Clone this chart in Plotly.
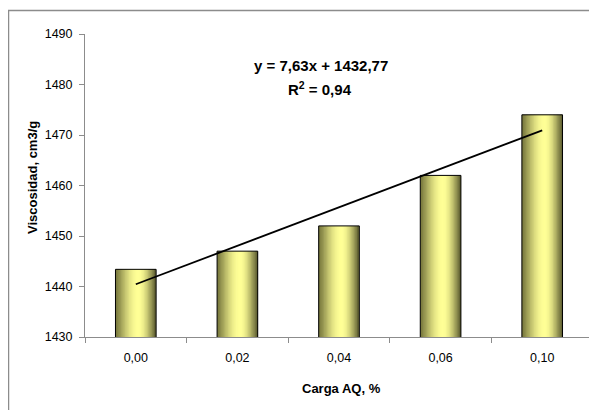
import numpy as np
import plotly.graph_objects as go

# ---- data ----
categories = ["0,00", "0,02", "0,04", "0,06", "0,10"]
viscosity = [1443.4, 1447.0, 1452.0, 1462.0, 1474.0]
y_ticks = [1430, 1440, 1450, 1460, 1470, 1480, 1490]
equation_text = "y = 7,63x + 1432,77"
r2_text = "R<sup>2</sup> = 0,94"

# ---- layout constants (reference pixel coords; page body adds an 8px offset) ----
OFF = 8
W, H = 597 - OFF, 410 - OFF
PLOT_L, PLOT_R, PLOT_T, PLOT_B = 85, 593, 34, 337
L = PLOT_L - OFF
T = PLOT_T - OFF
R = W - (PLOT_R - OFF)
B = H - (PLOT_B - OFF)
PW, PH = PLOT_R - PLOT_L, PLOT_B - PLOT_T

def px_x(x):
    return (x - PLOT_L) / PW

def px_y(y):
    return (PLOT_B - y) / PH

# linear trend over category index 1..n
idx = np.arange(1, len(viscosity) + 1)
slope, intercept = np.polyfit(idx, viscosity, 1)
trend = slope * idx + intercept

fig = go.Figure()

# gradient bars built from thin overlaid stripes
bar_w = 0.4
n_strips = 30
dark_l = np.array([118, 118, 60])
dark_r = np.array([96, 96, 50])
light = np.array([255, 255, 150])
peak = 0.56
sw = bar_w / n_strips
for i in range(n_strips):
    t = (i + 0.5) / n_strips
    if t < peak:
        s = t / peak
        dark = dark_l
    else:
        s = (1 - t) / (1 - peak)
        dark = dark_r
    b = np.sin(s * np.pi / 2) ** 1.2
    c = dark + (light - dark) * b
    color = "rgb(%d,%d,%d)" % tuple(np.round(c).astype(int))
    fig.add_trace(go.Bar(
        x=categories, y=viscosity,
        width=sw * 1.6 if i < n_strips - 1 else sw,
        offset=-bar_w / 2 + i * sw,
        marker=dict(color=color, line=dict(width=0)),
        hoverinfo="skip", showlegend=False,
    ))

# bar outlines
fig.add_trace(go.Bar(
    x=categories, y=viscosity, width=bar_w, offset=-bar_w / 2,
    marker=dict(color="rgba(0,0,0,0)", line=dict(color="black", width=1)),
    showlegend=False,
))

# trendline
fig.add_trace(go.Scatter(
    x=[categories[0], categories[-1]], y=[trend[0], trend[-1]],
    mode="lines", line=dict(color="black", width=1.8),
    showlegend=False, hoverinfo="skip",
))

fig.update_layout(
    width=W, height=H,
    margin=dict(l=L, r=R, t=T, b=B, pad=0),
    barmode="overlay",
    plot_bgcolor="white", paper_bgcolor="white",
    font=dict(family="Liberation Sans, Arial, sans-serif", color="black", size=12),
    showlegend=False,
    xaxis=dict(
        type="category", range=[-0.5, 4.5], tickson="boundaries",
        showline=True, linecolor="#8c8c8c", linewidth=1,
        ticks="outside", ticklen=5, tickcolor="#8c8c8c",
        showgrid=False, zeroline=False,
        tickfont=dict(size=12.5), ticklabelstandoff=9,
    ),
    yaxis=dict(
        range=[1430, 1490], tickvals=y_ticks,
        showline=True, linecolor="#8c8c8c", linewidth=1,
        ticks="outside", ticklen=5, tickcolor="#8c8c8c",
        showgrid=False, zeroline=False,
        tickfont=dict(size=12.5), ticklabelstandoff=4,
    ),
    shapes=[
        dict(type="rect", xref="paper", yref="paper",
             x0=px_x(8.5), x1=px_x(640), y0=px_y(460), y1=px_y(10.5),
             line=dict(color="#8c8c8c", width=1.5), fillcolor="rgba(0,0,0,0)",
             layer="below"),
    ],
    annotations=[
        dict(text="<b>%s</b>" % equation_text, xref="paper", yref="paper",
             x=px_x(320.5), y=px_y(65), showarrow=False,
             font=dict(size=15), xanchor="center", yanchor="middle"),
        dict(text="<b>%s</b>" % r2_text, xref="paper", yref="paper",
             x=px_x(320), y=px_y(88), showarrow=False,
             font=dict(size=15), xanchor="center", yanchor="middle"),
        dict(text="<b>Viscosidad, cm3/g</b>", xref="paper", yref="paper",
             x=px_x(32), y=px_y(178), showarrow=False, textangle=-90,
             font=dict(size=13), xanchor="center", yanchor="middle"),
        dict(text="<b>Carga AQ, %</b>", xref="paper", yref="paper",
             x=px_x(341.7), y=px_y(388), showarrow=False,
             font=dict(size=13), xanchor="center", yanchor="middle"),
    ],
)

fig.write_html("out.html")
